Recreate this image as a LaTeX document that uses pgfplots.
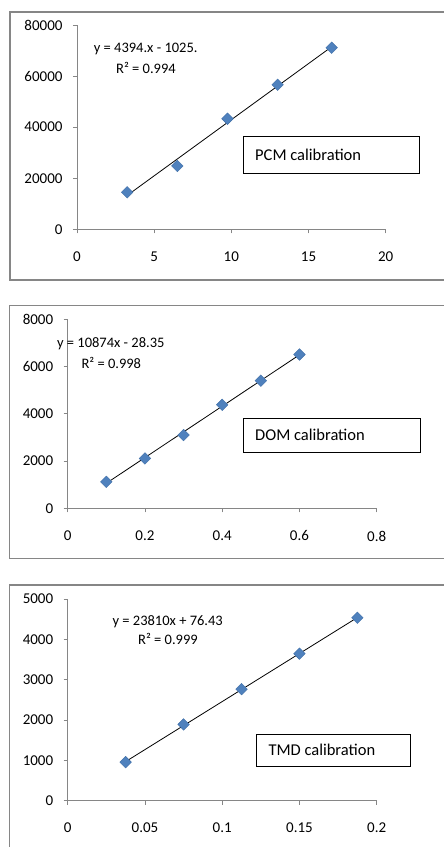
\documentclass[border=0pt]{standalone}
\usepackage{fontspec}
\setmainfont{Carlito}
\usepackage{pgfplots}
\pgfplotsset{compat=1.18}
\definecolor{ptblue}{HTML}{4F81BD}
\definecolor{ptedge}{HTML}{3F6FA8}
\definecolor{axgray}{HTML}{868686}

\pgfplotsset{
  calib/.style={
    scale only axis,
    anchor=south west,
    axis lines=left,
    axis line style={-, draw=axgray, line width=0.9pt},
    tick style={draw=axgray, line width=0.9pt},
    tick align=outside,
    major tick length=4pt,
    xtick pos=bottom, ytick pos=left,
    scaled x ticks=false, scaled y ticks=false,
    ticklabel style={font=\fontsize{15}{17}\selectfont, text=black},
    xticklabel style={yshift=-15pt},
    yticklabel style={xshift=-7pt},
    clip=false,
  },
  pts/.style={only marks, mark=square*, mark size=4.1pt,
    mark options={rotate=45, fill=ptblue, draw=ptedge, line width=0.4pt}},
  fit/.style={black, line width=0.8pt, no marks},
}

\begin{document}
\begin{tikzpicture}
\useasboundingbox (0pt,0pt) rectangle (444pt,847pt);
\fill[white] (0pt,0pt) rectangle (444pt,847pt);

% frames
\draw[axgray, line width=1.5pt] (10pt,835pt) rectangle (460pt,567pt);
\draw[axgray, line width=1.5pt] (9.3pt,541.3pt) rectangle (460pt,288.7pt);
\draw[axgray, line width=1.5pt] (9.3pt,262pt) rectangle (460pt,-20pt);

% PCM
\begin{axis}[calib, at={(77pt,617.7pt)}, width=308.7pt, height=204.3pt,
  xmin=0, xmax=20, ymin=0, ymax=80000,
  xtick={0,5,10,15,20}, xticklabels={0,5,10,15,20},
  ytick={0,20000,40000,60000,80000},
  yticklabels={0,20000,40000,60000,80000}]
\addplot[fit] coordinates {(3.25,13255) (16.5,71476)};
\addplot[pts] coordinates {
  (3.25,14500) (6.5,24800) (9.75,43300) (13,56600) (16.5,71100)};
\end{axis}

% DOM
\begin{axis}[calib, at={(67.7pt,338.7pt)}, width=309pt, height=189pt,
  xmin=0, xmax=0.8, ymin=0, ymax=8000,
  xtick={0,0.2,0.4,0.6,0.8}, xticklabels={0,0.2,0.4,0.6,0.8},
  ytick={0,2000,4000,6000,8000}, yticklabels={0,2000,4000,6000,8000}]
\addplot[fit] coordinates {(0.1,1059) (0.6,6496)};
\addplot[pts] coordinates {
  (0.1,1120) (0.2,2110) (0.3,3100) (0.4,4380) (0.5,5400) (0.6,6510)};
\end{axis}

% TMD
\begin{axis}[calib, at={(67.7pt,46.3pt)}, width=309pt, height=201.7pt,
  xmin=0, xmax=0.2, ymin=0, ymax=5000,
  xtick={0,0.05,0.1,0.15,0.2}, xticklabels={0,0.05,0.1,0.15,0.2},
  ytick={0,1000,2000,3000,4000,5000},
  yticklabels={0,1000,2000,3000,4000,5000}]
\addplot[fit] coordinates {(0.0375,969) (0.1875,4541)};
\addplot[pts] coordinates {
  (0.0375,955) (0.075,1890) (0.1125,2765) (0.15,3645) (0.1875,4535)};
\end{axis}

% equations and labels
\begin{scope}[every node/.style={inner sep=0pt, anchor=base,
    font=\fontsize{14.5}{17}\selectfont}]
\node at (145.7pt,794.4pt) {y = 4394.x - 1025.};
\node at (146pt,773.4pt) {R² = 0.994};
\node at (110.8pt,499.7pt) {y = 10874x - 28.35};
\node at (111.3pt,478.4pt) {R² = 0.998};
\node at (167.7pt,221.4pt) {y = 23810x + 76.43};
\node at (168pt,202.4pt) {R² = 0.999};
\end{scope}

\draw[black, line width=0.9pt] (243.3pt,710.3pt) rectangle (419.3pt,673.7pt);
\draw[black, line width=0.9pt] (243.3pt,428.7pt) rectangle (420.7pt,394.7pt);
\draw[black, line width=0.9pt] (256.7pt,112.7pt) rectangle (410.7pt,80.3pt);
\begin{scope}[every node/.style={inner sep=0pt, anchor=base west,
    font=\fontsize{16.5}{19}\selectfont}]
\node at (255pt,686.7pt) {PCM calibration};
\node at (255pt,406.4pt) {DOM calibration};
\node at (268.3pt,91.2pt) {TMD calibration};
\end{scope}
\end{tikzpicture}
\end{document}
